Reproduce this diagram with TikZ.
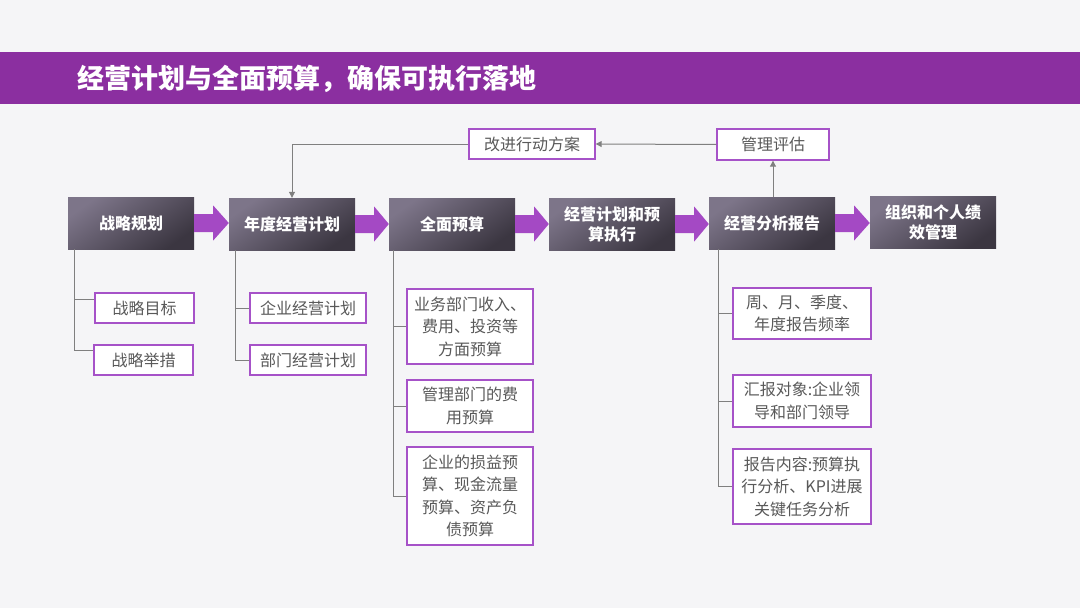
\documentclass[tikz,border=0pt]{standalone}
\usepackage{fontspec}
\setmainfont{Noto Sans CJK SC}
\usetikzlibrary{arrows.meta,calc}
\definecolor{bgc}{HTML}{F5F5F7}
\definecolor{barc}{HTML}{8B2FA0}
\definecolor{arrowc}{HTML}{A449C4}
\definecolor{subborder}{HTML}{A652C8}
\definecolor{subtext}{HTML}{595959}
\definecolor{linec}{HTML}{7F7F7F}
\definecolor{boxlight}{HTML}{7D7589}
\definecolor{boxdark}{HTML}{3B3641}
\tikzset{
  mainbox/.style={shade, top color=boxlight, bottom color=boxdark, shading angle=35,
    minimum width=126pt, minimum height=52pt, inner sep=0pt, text=white,
    font=\fontsize{16pt}{20pt}\selectfont\bfseries, align=center},
  subbox/.style={draw=subborder, line width=1.4pt, fill=white, text=subtext,
    inner sep=0pt, font=\fontsize{16pt}{22.5pt}\selectfont, align=center},
  conn/.style={draw=linec, line width=1pt},
  connarrow/.style={conn, -{Triangle[width=6pt,length=6pt]}},
}
\newcommand\blockarrow[2]{%
  \fill[arrowc] let \p1=(#1.east), \p2=(#2.west) in
    (\x1,\y1+9pt) -- (\x1+19pt,\y1+9pt) -- (\x1+19pt,\y1+17.5pt) -- (\x2,\y1)
    -- (\x1+19pt,\y1-17.5pt) -- (\x1+19pt,\y1-9pt) -- (\x1,\y1-9pt) -- cycle;}
\begin{document}
\begin{tikzpicture}[x=1pt,y=-1pt]
\useasboundingbox (0,0) rectangle (1080,608);
\fill[bgc] (0,0) rectangle (1080,608);
% title bar
\fill[barc] (0,52) rectangle (1080,104);
\node[anchor=west, inner sep=0pt, text=white, font=\fontsize{27pt}{30pt}\selectfont\bfseries] (title) at (77,79) {经营计划与全面预算，确保可执行落地};

% main boxes
\node[mainbox] (A) at (131,223) {战略规划};
\node[mainbox] (B) at (292,224) {年度经营计划};
\node[mainbox] (C) at (452,224) {全面预算};
\node[mainbox] (D) at (612,224) {经营计划和预\\算执行};
\node[mainbox] (E) at (772,223) {经营分析报告};
\node[mainbox] (F) at (933,222) {组织和个人绩\\效管理};

\blockarrow{A}{B}
\blockarrow{B}{C}
\blockarrow{C}{D}
\blockarrow{D}{E}
\blockarrow{E}{F}

% feedback
\node[subbox, minimum width=126pt, minimum height=30pt] (G) at (532,144) {改进行动方案};
\node[subbox, minimum width=112pt, minimum height=31pt] (H) at (773,144.5) {管理评估};
\draw[connarrow] (E.north -| H.south) -- (H.south);
\draw[connarrow] (H.west) -- (G.east);
\draw[connarrow] (G.west) -| (B.north);

% sub boxes of A
\node[subbox, minimum width=99pt, minimum height=30pt] (A1) at (144.5,308) {战略目标};
\node[subbox, minimum width=99pt, minimum height=30pt] (A2) at (143.5,360) {战略举措};
\coordinate (Atop) at ($(A.south west)+(7,0)$);
\draw[conn] (Atop) |- ($(A2.west)+(0,-10)$);
\draw[conn] (Atop |- A1.west) ++(0,-9) -- ($(A1.west)+(0,-9)$);

% sub boxes of B
\node[subbox, minimum width=116pt, minimum height=30pt] (B1) at (308,308) {企业经营计划};
\node[subbox, minimum width=116pt, minimum height=30pt] (B2) at (308,360) {部门经营计划};
\coordinate (Btop) at ($(B.south west)+(7,0)$);
\draw[conn] (Btop) |- (B2.west);
\draw[conn] (Btop |- B1.west) -- (B1.west);

% sub boxes of C
\node[subbox, minimum width=126pt, minimum height=75pt] (C1) at (470,326.5) {业务部门收入、\\费用、投资等\\方面预算};
\node[subbox, minimum width=126pt, minimum height=52pt] (C2) at (470,406) {管理部门的费\\用预算};
\node[subbox, minimum width=126pt, minimum height=98pt] (C3) at (470,496) {企业的损益预\\算、现金流量\\预算、资产负\\债预算};
\coordinate (Ctop) at ($(C.south west)+(5,0)$);
\draw[conn] (Ctop) |- (C3.west);
\draw[conn] (Ctop |- C1.west) -- (C1.west);
\draw[conn] (Ctop |- C2.west) -- (C2.west);

% sub boxes of E
\node[subbox, minimum width=138pt, minimum height=51pt] (E1) at (802,313.5) {周、月、季度、\\年度报告频率};
\node[subbox, minimum width=138pt, minimum height=52pt] (E2) at (802,401) {汇报对象:企业领\\导和部门领导};
\node[subbox, minimum width=138pt, minimum height=75pt] (E3) at (802,486.5) {报告内容:预算执\\行分析、KPI进展\\关键任务分析};
\coordinate (Etop) at ($(E.south west)+(10,0)$);
\draw[conn] (Etop) |- (E3.west);
\draw[conn] (Etop |- E1.west) -- (E1.west);
\draw[conn] (Etop |- E2.west) -- (E2.west);
\end{tikzpicture}
\end{document}
